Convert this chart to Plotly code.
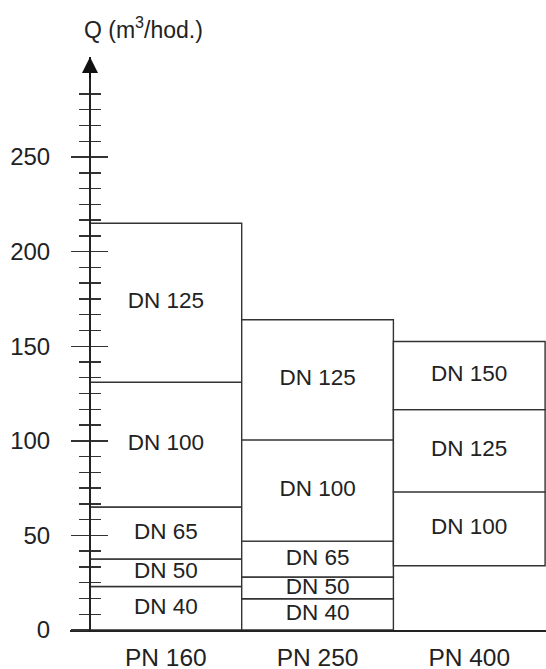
import numpy as np
import plotly.graph_objects as go

# ---- data (m3/h) ----
categories = ["PN 160", "PN 250", "PN 400"]
bounds_160 = [0, 23, 37.5, 65, 131, 215]
labels_160 = ["DN 40", "DN 50", "DN 65", "DN 100", "DN 125"]
bounds_250 = [0, 16.5, 28, 47, 100.5, 164]
labels_250 = ["DN 40", "DN 50", "DN 65", "DN 100", "DN 125"]
bounds_400 = [34, 73, 116.5, 152.5]
labels_400 = ["DN 100", "DN 125", "DN 150"]
y_tick_vals = [0, 50, 100, 150, 200, 250]
y_minor_step = 50 / 6
y_minor_max = 284
y_axis_top = 302.9

FONT = "Liberation Sans, Arial, sans-serif"
INK = "#222222"
EDGE = "#333333"

all_bounds = [bounds_160, bounds_250, bounds_400]
all_labels = [labels_160, labels_250, labels_400]

fig = go.Figure()
for i, (b, labs) in enumerate(zip(all_bounds, all_labels)):
    b = np.array(b, dtype=float)
    base = b[:-1]
    h = np.diff(b)
    mid = base + h / 2
    xc = [i + 0.5] * len(h)
    fig.add_trace(go.Bar(
        x=xc, y=h, base=base, width=1.0,
        marker=dict(color="white", line=dict(color=EDGE, width=1.4)),
        hoverinfo="skip", showlegend=False, textposition="none",
    ))
    fig.add_trace(go.Scatter(
        x=xc, y=mid, mode="text", text=labs,
        textfont=dict(family=FONT, size=22.5, color=INK),
        hoverinfo="skip", showlegend=False,
    ))

# helper trace so the second (inside ticks) y axis exists
fig.add_trace(go.Scatter(x=[None], y=[None], yaxis="y2", showlegend=False, hoverinfo="skip"))

px_per_bar = 151.7
plot_w = 476
ypos = 20 / plot_w
minor_vals = list(np.arange(0, y_minor_max, y_minor_step))

fig.update_layout(
    width=546, height=669,
    margin=dict(l=70, r=0, t=57, b=39, autoexpand=False),
    paper_bgcolor="white", plot_bgcolor="white",
    barmode="overlay", bargap=0,
    font=dict(family=FONT, color=INK),
    xaxis=dict(
        range=[-20 / px_per_bar, 456 / px_per_bar],
        showline=True, linecolor=INK, linewidth=1.6,
        tickvals=[0.5, 1.5, 2.5], ticktext=categories,
        ticks="", showgrid=False, zeroline=False, automargin=False,
        tickfont=dict(family=FONT, size=24.5, color=INK),
        ticklabelstandoff=5,
    ),
    yaxis=dict(
        range=[0, y_axis_top], anchor="free", position=ypos,
        showline=True, linecolor=INK, linewidth=2, automargin=False,
        tickmode="array", tickvals=y_tick_vals,
        ticks="outside", ticklen=18, tickwidth=1.4, tickcolor=EDGE,
        minor=dict(tickmode="array", tickvals=minor_vals, ticks="outside",
                   ticklen=10, tickwidth=1.4, tickcolor=EDGE),
        showgrid=False, zeroline=False,
        tickfont=dict(family=FONT, size=24, color=INK),
        ticklabelstandoff=16,
    ),
    yaxis2=dict(
        overlaying="y", matches="y", anchor="free", position=ypos,
        showline=False, showticklabels=False, automargin=False,
        tickmode="array", tickvals=y_tick_vals,
        ticks="inside", ticklen=17, tickwidth=1.4, tickcolor=EDGE,
        minor=dict(tickmode="array", tickvals=minor_vals, ticks="inside",
                   ticklen=10, tickwidth=1.4, tickcolor=EDGE),
        showgrid=False, zeroline=False,
    ),
)

fig.add_annotation(
    x=0, y=y_axis_top, ax=0, ay=y_axis_top - 12,
    xref="x", yref="y", axref="x", ayref="y",
    text="", showarrow=True, arrowhead=2, arrowsize=1.6, arrowwidth=2,
    arrowcolor="#111111", standoff=0,
)
fig.add_annotation(
    x=(82 - 70) / plot_w, y=(630 - 28) / 573, xref="paper", yref="paper",
    xanchor="left", yanchor="middle", showarrow=False,
    text="Q (m<sup>3</sup>/hod.)", font=dict(family=FONT, size=23, color=INK),
)

fig.write_html(
    "out.html",
    config={"displayModeBar": False, "staticPlot": True},
    post_script="document.body.style.margin='0';document.body.style.overflow='hidden';",
)
